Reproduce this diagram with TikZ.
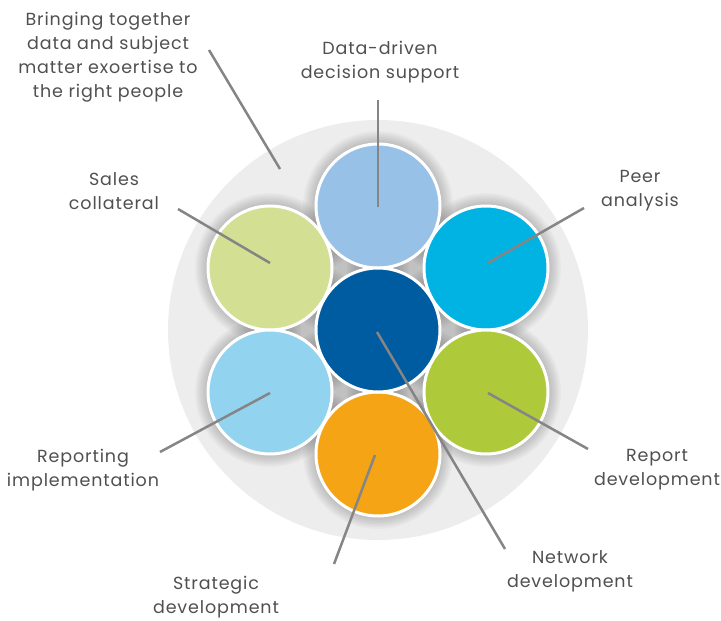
\documentclass[tikz,border=0pt]{standalone}
\usepackage{fontspec}
\setmainfont{Poppins}[LetterSpace=5]
\definecolor{bg}{HTML}{EDEDED}
\definecolor{txt}{HTML}{505050}
\definecolor{leadc}{HTML}{858585}
\definecolor{cTop}{HTML}{98C1E7}
\definecolor{cTR}{HTML}{00B3E3}
\definecolor{cBR}{HTML}{AECA3A}
\definecolor{cBot}{HTML}{F5A416}
\definecolor{cBL}{HTML}{92D3F0}
\definecolor{cTL}{HTML}{D3DF93}
\definecolor{cMid}{HTML}{005CA1}
\begin{document}
\begin{tikzpicture}[x=1pt,y=-1pt,
  bubble/.style={circle, minimum size=124pt, inner sep=0pt, draw=white, line width=3pt},
  lbl/.style={align=center, text=txt, font=\fontsize{17.5}{24}\selectfont},
  lead/.style={draw=leadc, line width=2.5pt}]
\useasboundingbox (0,0) rectangle (721,621);
\node[circle, fill=bg, minimum size=420pt, inner sep=0pt] (ring) at (378,330) {};
% soft halos behind the bubbles
\foreach \p in {(378,206),(270,268),(486,268),(270,392),(486,392),(378,454),(378,330)}{
  \foreach \r in {63,64.5,...,76}{
    \fill[black, opacity=0.022] \p circle (\r);
  }
}
\node[bubble, fill=cTop] (top) at (378,206) {};
\node[bubble, fill=cTL] (tl) at (270,268) {};
\node[bubble, fill=cTR] (tr) at (486,268) {};
\node[bubble, fill=cBL] (bl) at (270,392) {};
\node[bubble, fill=cBR] (br) at (486,392) {};
\node[bubble, fill=cBot] (bot) at (378,454) {};
\node[bubble, fill=cMid] (mid) at (378,330) {};

\node[lbl] (lBring) at (108,57) {Bringing together\\data and subject\\matter exoertise to\\the right people};
\node[lbl] (lData) at (380,62) {Data-driven\\decision support};
\node[lbl] (lSales) at (114,191) {Sales\\collateral};
\node[lbl] (lPeer) at (640,191) {Peer\\analysis};
\node[lbl] (lRepImp) at (83,470) {Reporting\\implementation};
\node[lbl] (lRepDev) at (657,470) {Report\\development};
\node[lbl] (lNet) at (570,571) {Network\\development};
\node[lbl] (lStrat) at (216,597) {Strategic\\development};

\coordinate (iTop) at (378,207);  \coordinate (oTop) at (378,100);
\coordinate (iTL) at (270,263);   \coordinate (oTL) at (178,209);
\coordinate (iRing) at (280,169); \coordinate (oRing) at (209,50);
\coordinate (iTR) at (488,263);   \coordinate (oTR) at (584,208);
\coordinate (iBR) at (488,393);   \coordinate (oBR) at (588,449);
\coordinate (iMid) at (377,332);  \coordinate (oMid) at (505,549);
\coordinate (iBot) at (375,455);  \coordinate (oBot) at (334,564);
\coordinate (iBL) at (270,393);   \coordinate (oBL) at (160,452);

\draw[lead] (iTop) -- (oTop);
\draw[lead] (iTL) -- (oTL);
\draw[lead] (iRing) -- (oRing);
\draw[lead] (iTR) -- (oTR);
\draw[lead] (iBR) -- (oBR);
\draw[lead] (iMid) -- (oMid);
\draw[lead] (iBot) -- (oBot);
\draw[lead] (iBL) -- (oBL);
\end{tikzpicture}
\end{document}
